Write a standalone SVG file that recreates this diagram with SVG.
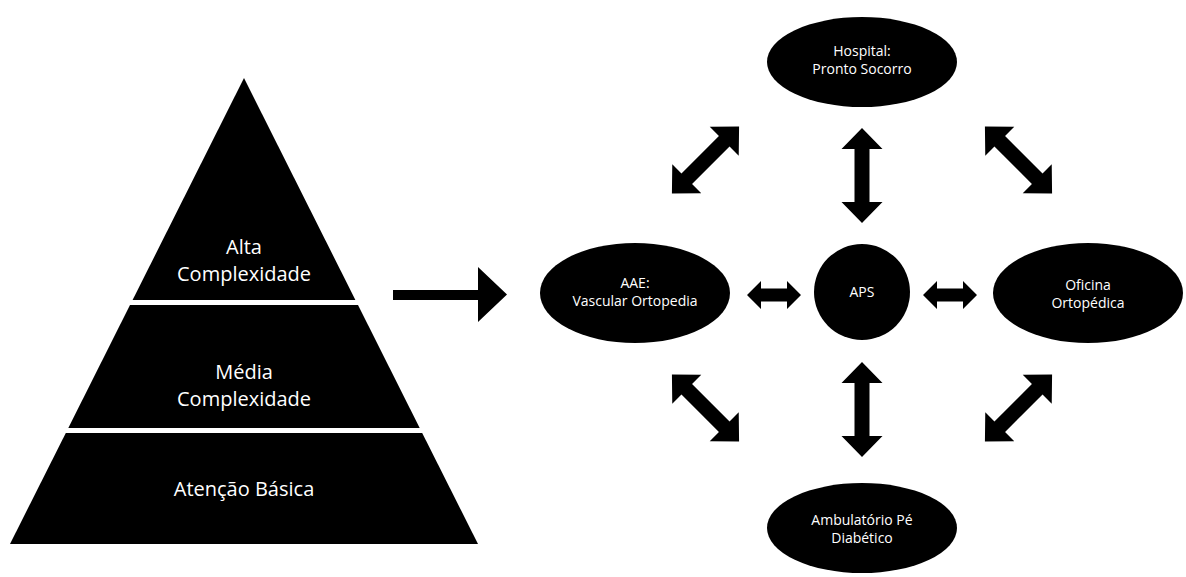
<svg xmlns="http://www.w3.org/2000/svg" xmlns:xlink="http://www.w3.org/1999/xlink" width="1186" height="577" viewBox="0 0 1186 577">
<style>
  .shape { fill: #000; }
  .lbl { fill: #fff; font-family: "Open Sans", "Noto Sans", "DejaVu Sans", sans-serif; text-anchor: middle; }
  .big { font-size: 20px; }
  .small { font-size: 14px; }
  .arrow { fill: #000; }
</style>
<defs>
  <path id="dbl" d="M0,-47.5 L20.5,-26.5 L7.5,-26.5 L7.5,26.5 L20.5,26.5 L0,47.5 L-20.5,26.5 L-7.5,26.5 L-7.5,-26.5 L-20.5,-26.5 Z"/>
  <path id="dblh" d="M-27,0 L-13,-14 L-13,-6.5 L13,-6.5 L13,-14 L27,0 L13,14 L13,6.5 L-13,6.5 L-13,14 Z"/>
</defs>
<rect width="1186" height="577" fill="#fff"/>

<g id="pyramid-alta">
  <polygon class="shape" points="244,78 355.4,300 132.6,300"/>
  <text class="lbl big" x="244" y="254">Alta</text>
  <text class="lbl big" x="244" y="281">Complexidade</text>
</g>
<g id="pyramid-media">
  <polygon class="shape" points="130,305 358,305 419.7,428 68.3,428"/>
  <text class="lbl big" x="244" y="379">Média</text>
  <text class="lbl big" x="244" y="406">Complexidade</text>
</g>
<g id="pyramid-basica">
  <polygon class="shape" points="65.8,433 422.2,433 478,544 10,544"/>
  <text class="lbl big" x="244" y="496">Atenção Básica</text>
</g>

<g id="hospital">
  <ellipse class="shape" cx="862" cy="62" rx="95" ry="45"/>
  <text class="lbl small" x="862" y="56">Hospital:</text>
  <text class="lbl small" x="862" y="74">Pronto Socorro</text>
</g>
<g id="aae">
  <ellipse class="shape" cx="635" cy="293" rx="95" ry="50"/>
  <text class="lbl small" x="635" y="288">AAE:</text>
  <text class="lbl small" x="635" y="306">Vascular Ortopedia</text>
</g>
<g id="aps">
  <circle class="shape" cx="862" cy="292" r="48"/>
  <text class="lbl small" x="862" y="297">APS</text>
</g>
<g id="oficina">
  <ellipse class="shape" cx="1088" cy="293" rx="95" ry="50"/>
  <text class="lbl small" x="1088" y="290">Oficina</text>
  <text class="lbl small" x="1088" y="308">Ortopédica</text>
</g>
<g id="ambulatorio">
  <ellipse class="shape" cx="862" cy="528" rx="95" ry="45"/>
  <text class="lbl small" x="862" y="525">Ambulatório Pé</text>
  <text class="lbl small" x="862" y="543">Diabético</text>
</g>

<g id="connectors">
  <path class="arrow" d="M393,290 L478,290 L478,267 L507,294.5 L478,322 L478,300 L393,300 Z"/>
  <use xlink:href="#dbl" href="#dbl" class="arrow" transform="translate(862,175.5)"/>
  <use xlink:href="#dbl" href="#dbl" class="arrow" transform="translate(862,409.5)"/>
  <use xlink:href="#dbl" href="#dbl" class="arrow" transform="translate(705.5,160) rotate(45)"/>
  <use xlink:href="#dbl" href="#dbl" class="arrow" transform="translate(1018.5,160) rotate(-45)"/>
  <use xlink:href="#dbl" href="#dbl" class="arrow" transform="translate(705.5,408) rotate(-45)"/>
  <use xlink:href="#dbl" href="#dbl" class="arrow" transform="translate(1018.5,408) rotate(45)"/>
  <use xlink:href="#dblh" href="#dblh" class="arrow" transform="translate(774,295)"/>
  <use xlink:href="#dblh" href="#dblh" class="arrow" transform="translate(950,295)"/>
</g>
</svg>
